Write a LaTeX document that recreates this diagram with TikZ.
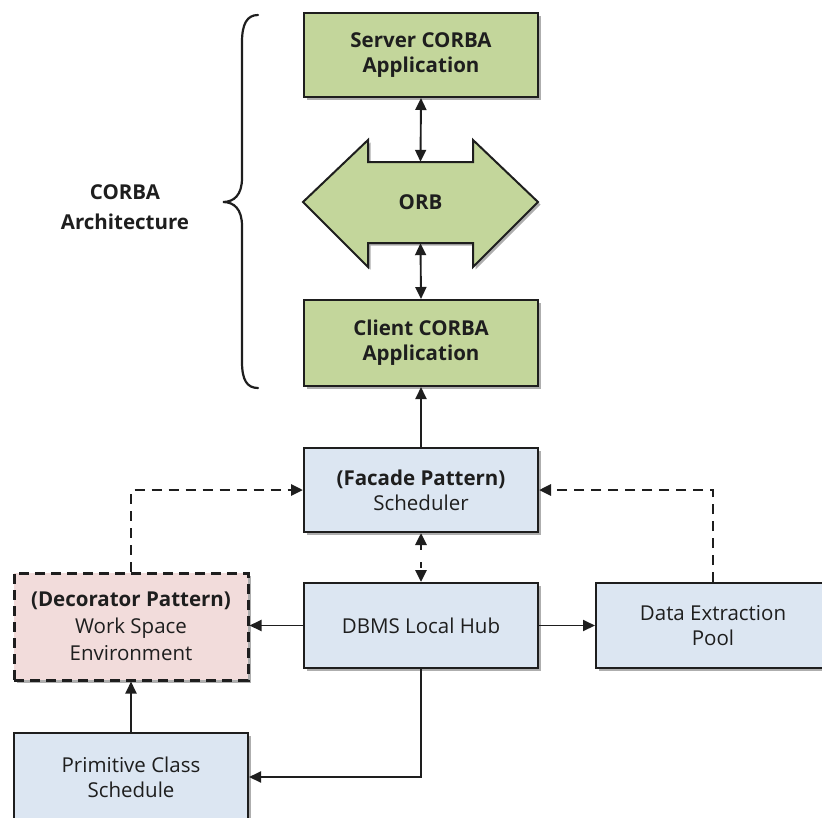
\documentclass[tikz,border=0pt]{standalone}
\usepackage{fontspec}
\setmainfont{Open Sans}
\usetikzlibrary{arrows.meta,shadows,calc}
\definecolor{corbagreen}{HTML}{C3D69B}
\definecolor{hubblue}{HTML}{DCE6F2}
\definecolor{decopink}{HTML}{F2DCDB}
\definecolor{edge}{HTML}{1E1E1E}
\begin{document}
\begin{tikzpicture}[x=1pt,y=-1pt,
  txt/.style={font=\fontsize{20.5}{25}\selectfont, text=edge},
  basebox/.style={txt, draw=edge, line width=2pt, minimum width=234pt,
    align=center, inner sep=0pt,
    drop shadow={shadow xshift=2.5pt, shadow yshift=-2.5pt, opacity=0.45, fill=black!70}},
  corbabox/.style={basebox, fill=corbagreen, font=\fontsize{20.5}{25}\selectfont\bfseries},
  hubbox/.style={basebox, fill=hubblue},
  decobox/.style={basebox, fill=decopink, dash pattern=on 10pt off 6pt, line width=3pt},
  conn/.style={line width=1.9pt, draw=edge, -{Triangle[length=12pt,width=11pt]}},
  biconn/.style={conn, {Triangle[length=12pt,width=11pt]}-{Triangle[length=12pt,width=11pt]}},
  dashconn/.style={conn, line width=2.8pt, dash pattern=on 10pt off 7pt},
  dashbiconn/.style={biconn, line width=2.8pt, dash pattern=on 6pt off 12pt},
]
\useasboundingbox (0,0) rectangle (822,817);

% CORBA stack
\node[corbabox, minimum height=84pt] (server) at (421,55) {Server CORBA\\Application};

\draw[edge, line width=2pt, fill=corbagreen,
  drop shadow={shadow xshift=2.5pt, shadow yshift=-2.5pt, opacity=0.45, fill=black!70}]
  (303,202) -- (368,140) -- (368,162) -- (473,162) -- (473,140) -- (538,202)
  -- (473,267) -- (473,243) -- (368,243) -- (368,267) -- cycle;
\node[txt, font=\fontsize{20.5}{25}\selectfont\bfseries, minimum width=235pt,
  minimum height=81pt, inner sep=0pt] (orb) at (420.5,202.5) {ORB};

\node[corbabox, minimum height=86pt] (client) at (421,343) {Client CORBA\\Application};

% brace and its label
\draw[edge, line width=2.2pt, line cap=round]
  (258,15) .. controls (247,15) and (242,24) .. (242,42) -- (242,178)
  .. controls (242,195) and (234,202) .. (223,202)
  .. controls (234,202) and (242,209) .. (242,226) -- (242,362)
  .. controls (242,380) and (247,388) .. (258,388);
\node[txt, font=\fontsize{20.5}{30}\selectfont\bfseries, align=center] (corbalbl) at (125,207)
  {CORBA\\Architecture};

% application layer
\node[hubbox, minimum height=84pt] (facade) at (421,490)
  {\textbf{(Facade Pattern)}\\Scheduler};
\node[hubbox, minimum height=85pt] (dbms) at (421,625.5) {DBMS Local Hub};
\node[hubbox, minimum height=85pt] (data) at (713,625.5) {Data Extraction\\Pool};
\node[decobox, minimum height=107pt, font=\fontsize{20.5}{27}\selectfont] (deco) at (131,626.5)
  {\textbf{(Decorator Pattern)}\\Work Space\\Environment};
\node[hubbox, minimum height=88pt] (prim) at (131,777) {Primitive Class\\Schedule};

% connectors
\draw[biconn] (server.south) -- (orb.north);
\draw[biconn] (orb.south) -- (client.north);
\draw[conn] (facade.north) -- (client.south);
\draw[dashbiconn] (facade.south) -- (dbms.north);
\draw[conn] (dbms.west) -- (dbms.west -| deco.east);
\draw[conn] (dbms.east) -- (data.west);
\draw[conn] (dbms.south) |- (prim.east);
\draw[conn] (prim.north) -- (deco.south);
\draw[dashconn] (deco.north) |- (facade.west);
\draw[dashconn] (data.north) |- (facade.east);
\end{tikzpicture}
\end{document}
